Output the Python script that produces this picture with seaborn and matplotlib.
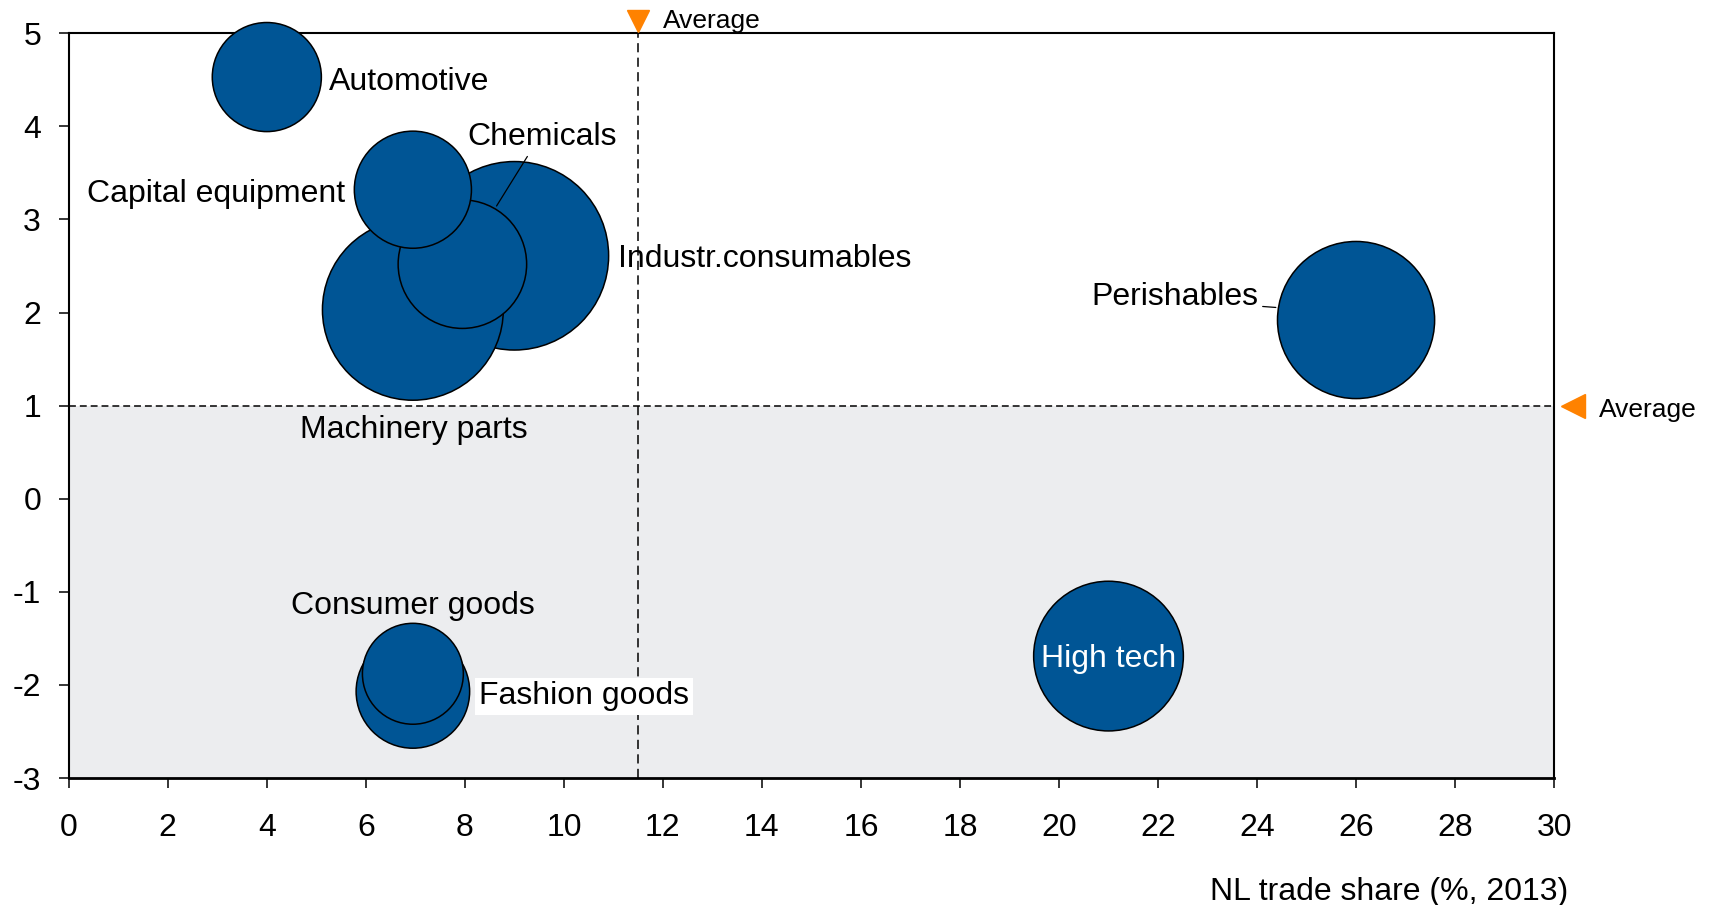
import matplotlib
matplotlib.use("Agg")
import matplotlib.pyplot as plt
import seaborn as sns
import pandas as pd

# sector data (drawing order matters for the overlaps)
sectors = ["Automotive", "Industr.consumables", "Machinery parts", "Chemicals",
           "Capital equipment", "Perishables", "High tech", "Fashion goods",
           "Consumer goods"]
trade_share = [4.0, 9.0, 6.95, 7.95, 6.95, 26.0, 21.0, 6.95, 6.95]
growth = [4.53, 2.61, 2.03, 2.52, 3.32, 1.92, -1.69, -2.07, -1.88]
bubble = [61.7, 184.2, 169.6, 85.6, 71.1, 128.0, 116.2, 66.8, 52.8]

avg_share = 11.5
avg_growth = 1.0

# label placement
label_x = [5.26, 11.09, 6.96, 9.56, 5.59, 24.02, 21.0, 8.29, 6.94]
label_y = [4.39, 2.49, 0.65, 3.80, 3.19, 2.08, -1.81, -2.21, -1.24]
label_ha = ["left", "left", "center", "center", "right", "right", "center", "left", "center"]
leaders = {"Chemicals": ((8.64, 3.145), (0.42, 0.0)),
           "Perishables": ((24.38, 2.055), (1.0, 0.2))}

df = pd.DataFrame({"sector": sectors, "share": trade_share,
                   "growth": growth, "bubble": bubble})

sns.set_theme(style="ticks")
plt.rcParams["font.family"] = ["Liberation Sans", "DejaVu Sans"]
plt.rcParams["axes.unicode_minus"] = False
plt.rcParams["text.color"] = "black"
plt.rcParams["axes.labelcolor"] = "black"
plt.rcParams["xtick.color"] = "black"
plt.rcParams["ytick.color"] = "black"

blue = "#005595"
orange = "#FF8200"
fs = 23

fig = plt.figure(figsize=(17.11, 9.05), dpi=100)
ax = fig.add_axes([0.0402, 0.1403, 0.8681, 0.8229])

# shaded "below average" zone and average lines
ax.axhspan(-3, avg_growth, color="#ECEDEF", lw=0, zorder=0)
ax.axhline(avg_growth, color="black", lw=1.1, ls=(0, (4.5, 2.6)), zorder=1)
ax.axvline(avg_share, color="black", lw=1.1, ls=(0, (6, 3.5)), zorder=1)

smin, smax = min(bubble), max(bubble)
sns.scatterplot(data=df, x="share", y="growth", size="bubble",
                sizes=(smin * 100, smax * 100), size_norm=(smin, smax),
                color=blue, edgecolor="black", linewidth=1.1, alpha=1,
                legend=False, ax=ax, clip_on=False, zorder=3)

for name, lx, ly, ha in zip(sectors, label_x, label_y, label_ha):
    kw = dict(fontsize=fs, ha=ha, va="baseline", zorder=5)
    if name == "High tech":
        kw["color"] = "white"
    if name == "Fashion goods":
        kw["bbox"] = dict(boxstyle="square,pad=0.12", fc="white", ec="none")
    if name in leaders:
        end, rel = leaders[name]
        ax.annotate(name, xy=end, xytext=(lx, ly),
                    arrowprops=dict(arrowstyle="-", lw=0.9, color="black",
                                    shrinkA=1, shrinkB=0, relpos=rel),
                    **kw)
    else:
        ax.text(lx, ly, name, **kw)

# average markers outside the plot area
ax.plot([avg_share], [1.0161], marker="v", ms=16, color=orange, ls="none",
        transform=ax.get_xaxis_transform(), clip_on=False, zorder=6)
ax.annotate("Average", xy=(avg_share, 1), xycoords=("data", "axes fraction"),
            xytext=(18, 4.0), textcoords="offset points", va="baseline",
            fontsize=19)
ax.plot([1.0126], [avg_growth], marker="<", ms=17, color=orange, ls="none",
        transform=ax.get_yaxis_transform(), clip_on=False, zorder=6)
ax.annotate("Average", xy=(1, avg_growth), xycoords=("axes fraction", "data"),
            xytext=(32, -7.9), textcoords="offset points", va="baseline",
            fontsize=19)

ax.set_xlim(0, 30)
ax.set_ylim(-3, 5)
ax.set_xticks(range(0, 31, 2))
ax.set_yticks(range(-3, 6))
ax.set_xlabel("")
ax.set_ylabel("")
ax.tick_params(axis="x", direction="out", length=7.5, width=1.1, pad=18, labelsize=fs)
ax.tick_params(axis="y", direction="out", length=7.5, width=1.1, pad=12.5, labelsize=fs)
for side, sp in ax.spines.items():
    sp.set_color("black")
    sp.set_linewidth(1.5)
    sp.set_zorder(2)
ax.spines["bottom"].set_linewidth(2)

fig.text(0.9166, 0.0055, "NL trade share (%, 2013)", ha="right", va="baseline",
         fontsize=fs)

fig.savefig("out.png", dpi=100)
